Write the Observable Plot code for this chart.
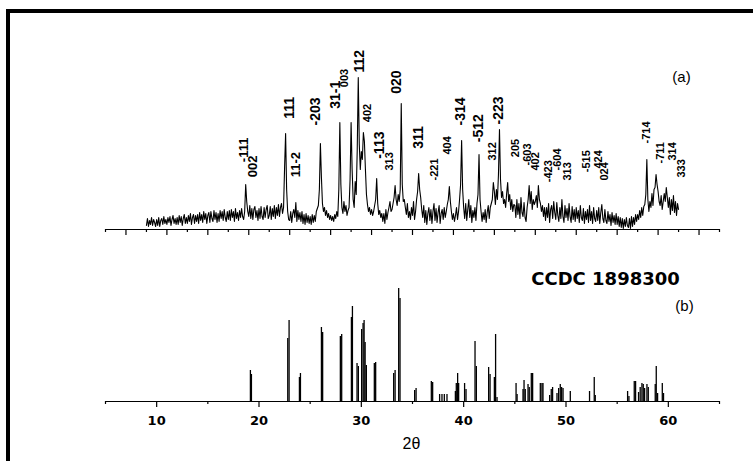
<!DOCTYPE html>
<html><head><meta charset="utf-8">
<script src="https://cdn.jsdelivr.net/npm/d3@7"></script>
<script src="https://cdn.jsdelivr.net/npm/@observablehq/plot@0.6"></script>
<style>
html,body{margin:0;padding:0;background:#fff;}
#wrap{position:relative;width:753px;height:461px;overflow:hidden;background:#fff;}
#frame{position:absolute;left:6px;top:9px;width:800px;height:500px;border:4px solid #000;box-sizing:border-box;}
#pa{position:absolute;left:0;top:0;}
#pb{position:absolute;left:0;top:230px;}
</style></head><body>
<div id="wrap"><div id="frame"></div><div id="pa"></div><div id="pb"></div></div>
<script>
// ---------- (a) measured pattern: scan grid and intensities ----------
const scanStart = 9.0;
const scanStep = 0.1;
const scanIntensity = [
  4,11,3,9,5,12,4,10,7,3,
  10,4,12,3,9,11,5,13,6,10,
  5,12,7,13,4,10,14,6,11,5,
  12,5,14,7,13,4,11,15,6,12,
  6,14,8,16,5,12,15,6,14,8,
  15,6,17,9,15,7,18,10,16,6,
  14,17,7,18,11,8,19,10,17,7,
  16,8,19,11,18,9,20,12,8,18,
  10,19,9,20,12,18,8,21,11,17,
  9,19,12,21,13,10,18,45,28,18,
  13,24,11,21,10,20,23,12,19,9,
  21,11,23,13,10,22,12,20,24,11,
  14,23,10,21,13,24,11,22,14,25,
  13,22,26,16,22,62,96,40,18,10,
  9,18,7,16,20,12,27,8,19,10,
  17,8,18,6,15,5,16,7,14,6,
  13,5,15,7,14,8,18,21,24,40,
  86,52,26,18,22,14,19,12,16,10,
  14,9,13,8,15,11,18,13,40,107,
  45,22,16,28,18,24,14,19,22,50,
  107,60,30,22,48,35,80,152,85,60,
  78,70,97,88,60,35,25,18,22,15,
  20,14,18,24,30,51,26,15,19,12,
  16,8,16,6,20,10,17,22,28,18,
  20,26,32,44,30,24,35,28,40,126,
  45,28,30,22,15,26,12,18,10,22,
  14,28,10,18,30,38,56,40,32,20,
  12,24,7,19,5,16,22,9,20,6,
  18,26,9,21,7,17,24,6,16,20,
  10,22,12,18,25,30,43,28,18,10,
  16,8,14,22,10,18,30,45,89,40,
  22,11,26,9,20,30,12,24,7,19,
  12,22,9,26,35,75,30,18,8,17,
  10,20,7,17,24,11,22,26,30,47,
  38,25,40,30,55,100,50,32,38,26,
  30,22,36,47,28,35,20,30,18,25,
  24,12,30,15,26,11,32,17,13,27,
  12,8,22,30,44,26,38,20,30,25,
  28,34,22,44,30,26,18,24,13,22,
  9,22,12,26,7,20,24,11,28,17,
  10,27,14,8,22,11,30,13,7,24,
  12,21,9,26,13,7,23,10,20,8,
  22,11,19,7,24,12,9,21,6,18,
  10,20,7,24,9,18,6,22,11,8,
  19,9,22,6,17,25,11,7,20,9,
  6,18,8,15,4,17,7,14,5,16,
  5,13,3,12,2,11,1,10,3,12,
  4,2,11,1,13,3,12,5,15,8,
  15,10,19,12,22,14,23,25,35,70,
  30,18,28,22,36,24,40,42,55,45,
  38,28,24,34,20,28,36,28,42,32,
  22,32,15,30,19,34,17,28,14,26,
  20
];

// peak labels (hkl), their 2θ and label base height
const bigLabels  = ["111","-203","31-1","112","-113","020","311","-314","-512","-223"];
const bigPos     = [23.0, 25.51, 27.47, 29.81, 31.79, 33.42, 35.6, 39.67, 41.46, 43.42];
const bigBase    = [110.7, 104, 120.7, 157, 70.7, 135.7, 80.7, 104, 87.3, 105];

const midLabels  = ["-111","002","11-2"];
const midPos     = [18.51, 19.43, 23.56];
const midBase    = [67.3, 52.3, 52.3];

const smallLabels = ["003","402","313","-221","404","312","205","-603","402","-423","-604","313","-515","424","024","-714","-711","314","333"];
const smallPos    = [28.37, 30.56, 32.77, 37.14, 38.38, 42.77, 45.05, 46.22, 47.05, 48.27, 49.18, 50.19, 51.98, 53.18, 53.73, 57.89, 59.21, 60.38, 61.33];
const smallBase   = [142.3, 107.3, 59, 49, 75, 69, 72.3, 64, 59, 47.3, 59, 49, 57.3, 61, 49, 86, 66, 69, 52];

// ---------- (b) CCDC 1898300 reference sticks ----------
const stickPos = [19.16,19.26, 22.81,22.94, 23.95,24.05, 26.10,26.22, 27.95,28.08, 29.03,29.13, 29.58,29.71,
  30.03,30.17,30.27,30.37,30.49, 31.27,31.40, 33.16,33.30, 33.65,33.78, 35.21,35.35, 36.84,36.97,
  37.65,37.88,38.11,38.37, 39.19,39.28,39.41,39.51, 40.09,40.23, 41.11,41.24, 42.44,42.58,
  43.00,43.12,43.26, 45.12,45.22, 45.80,45.90,46.02, 46.29,46.41, 46.61,46.74, 47.49,47.65,47.75,
  48.40,48.56,48.69, 49.12,49.28,49.44,49.57,49.71, 50.42, 52.30, 52.76,52.86, 56.02,56.15,
  56.67,56.80, 57.09,57.25,57.42,57.55,57.68, 57.91,58.04, 58.72,58.82,58.95, 59.41,59.53];
const stickHeight = [31,27, 63,81, 24,28, 74,69, 65,67, 84,95, 38,35,
  72,78,81,59,36, 38,39, 28,31, 113,103, 11,13, 20,19,
  7,7,7,7, 10,18,28,18, 18,12, 60,35, 34,27,
  24,67,4, 18,7, 12,21,12, 17,14, 28,28, 18,18,18,
  6,12,14, 8,13,17,14,13, 10, 10, 24,6, 10,5,
  20,20, 9,14,18,17,13, 17,14, 17,35,8, 18,8];

// axis ticks
const topLongTicks  = [7,11,15,19,23,27,31,35,39,43,47,51,55,59,63];
const topShortTicks = [5,9,13,17,21,25,29,33,37,41,45,49,53,57,61,65];
const majorTicks = [10,20,30,40,50,60];
const minorTicks = [5,15,25,35,45,55,65];

const scan = scanIntensity.map((v, i) => ({x: scanStart + i * scanStep, y: v}));
const mk = (t, p, b) => t.map((s, i) => ({text: s, x: p[i], y: b[i]}));
const big = mk(bigLabels, bigPos, bigBase);
const mid = mk(midLabels, midPos, midBase);
const small = mk(smallLabels, smallPos, smallBase);
const sticks = stickPos.map((p, i) => ({x: p, h: stickHeight[i]}));

const lblFont = "Liberation Sans, Arial, Helvetica, sans-serif";
const boldFont = "DejaVu Sans, Verdana, sans-serif";

const plotA = Plot.plot({
  width: 753, height: 236,
  marginLeft: 105, marginRight: 34, marginTop: 69, marginBottom: 7,
  x: {domain: [5, 65]},
  y: {domain: [0, 160], axis: null},
  style: {background: "transparent", overflow: "visible", fontFamily: lblFont},
  marks: [
    Plot.ruleY([0], {stroke: "#000", strokeWidth: 1.2}),
    Plot.axisX({ticks: topLongTicks, tickSize: 6, tickFormat: () => "", label: null, strokeWidth: 1.2}),
    Plot.axisX({ticks: topShortTicks, tickSize: 3, tickFormat: () => "", label: null, strokeWidth: 1.2}),
    Plot.line(scan, {x: "x", y: "y", stroke: "#000", strokeWidth: 1.1}),
    Plot.text(big, {x: "x", y: "y", text: "text", rotate: -90, textAnchor: "start", fontSize: 14, fontWeight: "bold", fill: "#000"}),
    Plot.text(mid, {x: "x", y: "y", text: "text", rotate: -90, textAnchor: "start", fontSize: 13, fontWeight: "bold", fill: "#000"}),
    Plot.text(small, {x: "x", y: "y", text: "text", rotate: -90, textAnchor: "start", fontSize: 11, fontWeight: "bold", fill: "#000"}),
    Plot.text(["(a)"], {frameAnchor: "top-right", dx: -38, dy: 2, textAnchor: "middle", fontSize: 15, fill: "#000"})
  ]
});

const plotB = Plot.plot({
  width: 753, height: 231,
  marginLeft: 105, marginRight: 34, marginTop: 51, marginBottom: 60,
  x: {domain: [5, 65]},
  y: {domain: [0, 120], axis: null},
  style: {background: "transparent", overflow: "visible", fontFamily: lblFont},
  marks: [
    Plot.ruleX(sticks, {x: "x", y1: 0, y2: "h", stroke: "#000", strokeWidth: 1.3}),
    Plot.ruleY([0], {stroke: "#000", strokeWidth: 1.2}),
    Plot.axisX({ticks: majorTicks, tickSize: 6, tickPadding: 8, label: null, strokeWidth: 1.2,
      fontSize: 13, fontWeight: "bold", fontFamily: boldFont, fill: "#000"}),
    Plot.axisX({ticks: minorTicks, tickSize: 3, tickFormat: () => "", label: null, strokeWidth: 1.2}),
    Plot.text(["CCDC 1898300"], {frameAnchor: "top-right", dx: -114, dy: -9, textAnchor: "middle",
      fontSize: 18, fontWeight: "bold", fontFamily: boldFont, fill: "#000"}),
    Plot.text(["(b)"], {frameAnchor: "top-right", dx: -35, dy: 19, textAnchor: "middle", fontSize: 15, fill: "#000"}),
    Plot.text(["2θ"], {frameAnchor: "bottom", dx: -1, dy: 47, textAnchor: "middle", fontSize: 16, fill: "#000"})
  ]
});

document.getElementById("pa").appendChild(plotA);
document.getElementById("pb").appendChild(plotB);
</script>
</body></html>
